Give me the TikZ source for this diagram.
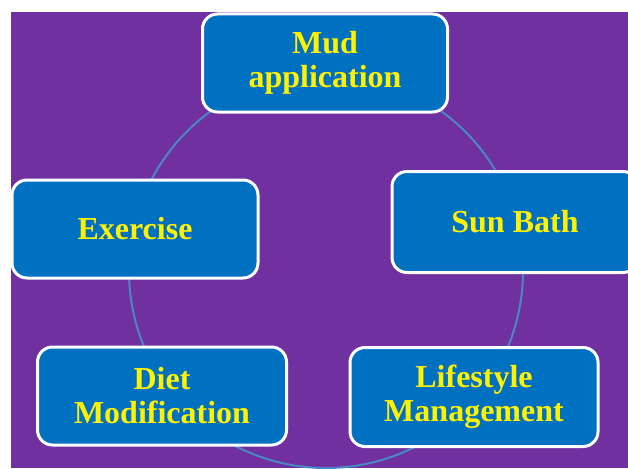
\documentclass[tikz,border=0pt]{standalone}
\usepackage{fontspec}
\setmainfont{Liberation Serif}

\definecolor{slidepurple}{RGB}{112,48,160}
\definecolor{boxblue}{RGB}{0,112,192}
\definecolor{ringblue}{RGB}{75,135,195}

\begin{document}
\begin{tikzpicture}[
        x=1pt, y=-1pt,
        stage/.style={rectangle, draw=white, line width=3pt, rounded corners=15pt, fill=boxblue,
            text=yellow, align=center, font=\fontsize{32}{34}\selectfont\bfseries},
        ring/.style={draw=ringblue, line width=2pt}
    ]

        \useasboundingbox (0,0) rectangle (628,468);
        \clip (0,0) rectangle (628,468);
        \fill[white] (0,0) rectangle (628,468);
        \fill[slidepurple] (11,12) rectangle (628,468);

        % the ring behind the stages
        \coordinate (hub) at (326, 271);
        \draw[ring] (hub) circle[radius=197];

        \node[stage, minimum width=245, minimum height=98] (mud)   at (325, 63)  {Mud\\application};
        \node[stage, minimum width=246, minimum height=101] (sun)  at (515, 222) {Sun Bath};
        \node[stage, minimum width=246, minimum height=98] (exer)  at (135, 229) {Exercise};
        \node[stage, minimum width=249, minimum height=98] (diet)  at (162, 396) {Diet\\Modification};
        \node[stage, minimum width=248, minimum height=99] (life)  at (474, 397) {Lifestyle\\Management};

    \end{tikzpicture}
\end{document}
